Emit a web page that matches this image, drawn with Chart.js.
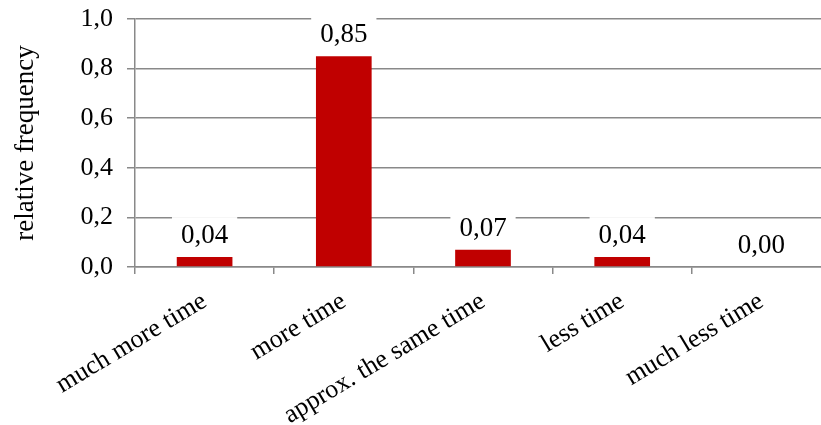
<!DOCTYPE html>
<html>
<head>
<meta charset="utf-8">
<script src="https://cdn.jsdelivr.net/npm/chart.js@4.4.1/dist/chart.umd.min.js"></script>
<style>
  html, body { margin: 0; padding: 0; background: #fff; overflow: hidden; }
  #wrap { width: 831px; height: 425px; }
</style>
</head>
<body>
<div id="wrap"><canvas id="chart"></canvas></div>
<script>
// Answer categories and their relative frequencies
const categories = ['much more time', 'more time', 'approx. the same time', 'less time', 'much less time'];
const frequencies = [0.04, 0.85, 0.07, 0.04, 0.00];
const yTickValues = [0, 0.2, 0.4, 0.6, 0.8, 1.0];

const FONT = "'Liberation Serif', 'Times New Roman', serif";
const GRID = '#898989';

const fmt = v => v.toFixed(2).replace('.', ',');

// Value labels above each bar, on a white box that masks the gridlines
const valueLabels = {
  id: 'valueLabels',
  afterDatasetsDraw(chart) {
    const ctx = chart.ctx;
    const meta = chart.getDatasetMeta(0);
    ctx.save();
    ctx.font = '27px ' + FONT;
    ctx.textAlign = 'center';
    ctx.textBaseline = 'middle';
    meta.data.forEach((bar, i) => {
      const text = fmt(frequencies[i]);
      const w = ctx.measureText(text).width + 18;
      const h = 36;
      const cy = bar.y - 22;
      ctx.fillStyle = '#fff';
      ctx.fillRect(bar.x - w / 2, cy - h / 2, w, h);
      ctx.fillStyle = '#000';
      ctx.fillText(text, bar.x, cy + 1);
    });
    ctx.restore();
  }
};

new Chart(document.getElementById('chart'), {
  type: 'bar',
  data: {
    labels: categories,
    datasets: [{
      data: frequencies,
      backgroundColor: '#C00000',
      borderWidth: 0,
      categoryPercentage: 1.0,
      barPercentage: 0.4
    }]
  },
  options: {
    responsive: true,
    maintainAspectRatio: false,
    animation: false,
    layout: { padding: { top: 19, left: 0, right: 0, bottom: 0 } },
    plugins: { legend: { display: false }, tooltip: { enabled: false } },
    scales: {
      x: {
        grid: { drawOnChartArea: false, drawTicks: true, tickLength: 7, color: GRID, lineWidth: 1.5, offset: true },
        border: { color: GRID, width: 1.5 },
        ticks: {
          color: '#000',
          font: { family: FONT, size: 26 },
          minRotation: 31,
          maxRotation: 31,
          padding: 12,
          autoSkip: false
        },
        afterFit(scale) { scale.height = 158; scale.paddingLeft = 0; scale.paddingRight = 0; }
      },
      y: {
        min: 0,
        max: 1,
        afterBuildTicks(scale) { scale.ticks = yTickValues.map(v => ({ value: v })); },
        grid: { color: GRID, lineWidth: 1.5, tickLength: 8 },
        border: { color: GRID, width: 1.5 },
        ticks: {
          color: '#000',
          font: { family: FONT, size: 26 },
          padding: 14,
          callback: v => Number(v).toFixed(1).replace('.', ',')
        },
        title: {
          display: true,
          text: 'relative frequency',
          color: '#000',
          font: { family: FONT, size: 27 },
          padding: { top: 10, bottom: 0 }
        },
        afterFit(scale) { scale.width = 135; scale.paddingTop = 0; scale.paddingBottom = 0; }
      }
    }
  },
  plugins: [valueLabels]
});
</script>
</body>
</html>
